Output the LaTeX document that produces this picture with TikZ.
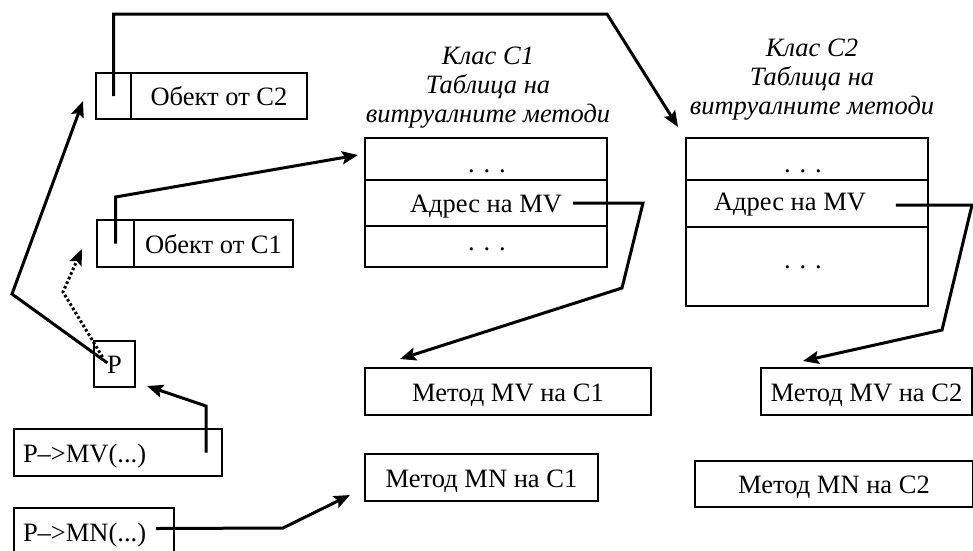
\documentclass[tikz,border=0pt]{standalone}
\usepackage{fontspec}
\setmainfont{Liberation Serif}
\usetikzlibrary{arrows.meta,calc}
\begin{document}
\begin{tikzpicture}[x=1pt,y=-1pt,
  every node/.style={font=\fontsize{26.5}{29}\selectfont, inner sep=0pt, outer sep=0pt},
  box/.style={draw, line width=1.8pt, anchor=north west, text height=19pt, text depth=0pt},
  txt/.style={anchor=base},
  ttl/.style={anchor=north, align=center, font=\fontsize{26.5}{29}\selectfont\itshape},
  conn/.style={line width=3pt, line join=miter},
  arr/.style={conn, -{Stealth[length=16pt,width=13pt,inset=3pt]}},
  dotarr/.style={line width=3pt, dash pattern=on 2.6pt off 2.4pt, -{Stealth[length=16pt,width=13pt,inset=3pt]}},
]
\useasboundingbox (0,0) rectangle (973,550);

% objects
\node[box, minimum width=35pt, minimum height=46pt] (o2p) at (96,73) {};
\node[box, minimum width=176pt, minimum height=46pt] (o2) at (131,73) {Обект от C2};
\node[box, minimum width=37pt, minimum height=47pt] (o1p) at (97,220) {};
\node[box, minimum width=159pt, minimum height=47pt] (o1) at (134,220) {Обект от C1};

% pointer and calls
\node[box, minimum width=41pt, minimum height=46pt] (P) at (94,341) {P};
\node[box, minimum height=47pt, text width=190pt, inner xsep=9pt, align=left] (callMV) at (14,429) {P–>MV(...)};
\node[box, minimum height=47pt, text width=142pt, inner xsep=9pt, align=left] (callMN) at (14,508) {P–>MN(...)};

% table C1
\node[ttl] (ttl1) at (488,47) {Клас C1\\Таблица на\\витруалните методи};
\node[box, minimum width=242pt, minimum height=42pt] (t1r1) at (365,138) {};
\node[box, minimum width=242pt, minimum height=46pt] (t1r2) at (365,180) {Адрес на MV};
\node[box, minimum width=242pt, minimum height=41pt] (t1r3) at (365,226) {};
\node[txt] (d11) at (487,172) {. . .};
\node[txt] (d13) at (487,250) {. . .};

% table C2
\node[ttl] (ttl2) at (812,39) {Клас C2\\Таблица на\\витруалните методи};
\node[box, minimum width=242pt, minimum height=42pt] (t2r1) at (686,138) {};
\node[box, minimum width=242pt, minimum height=47pt] (t2r2) at (686,180) {};
\node[box, minimum width=242pt, minimum height=79pt] (t2r3) at (686,227) {};
\node[txt] (a2) at (790,210) {Адрес на MV};
\node[txt] (d21) at (803,172) {. . .};
\node[txt] (d23) at (803,268) {. . .};

% methods
\node[box, minimum width=286pt, minimum height=47pt] (mv1) at (365,368) {Метод MV на C1};
\node[box, minimum width=233pt, minimum height=47pt] (mn1) at (365,454) {Метод MN на C1};
\node[box, minimum width=211pt, minimum height=47pt] (mv2) at (761,368) {Метод MV на C2};
\node[box, minimum width=278pt, minimum height=46pt] (mn2) at (695,461) {Метод MN на C2};

% connectors
\coordinate (k1) at (607,14);
\coordinate (h1) at (678,127);
\draw[arr] (o2p.center) |- (k1) -- (h1);

\coordinate (k2) at (116,197);
\coordinate (h2) at (358,155);
\draw[arr] (o1p.center) -- (o1p.center |- k2) -- (h2);

\coordinate (k3) at (12,294);
\coordinate (h3) at (83,101);
\draw[arr] ($(P.center)+(-7,-1)$) -- (k3) -- (h3);

\coordinate (k4) at (63,292);
\coordinate (h4) at (82,249);
\draw[dotarr] ($(P.center)+(-12,-7)$) -- (k4) -- (h4);

\coordinate (k5) at (206,406);
\coordinate (h5) at (147,386);
\draw[arr] ($(callMV.east)+(-16,0)$) -- (k5) -- (h5);

\coordinate (k6) at (283,528);
\coordinate (h6) at (350,495);
\draw[arr] ($(callMN.east)+(-18,-3)$) -- (k6) -- (h6);

\coordinate (k7a) at (643,203);
\coordinate (k7b) at (622,288);
\coordinate (h7) at (400,359);
\draw[arr] ($(t1r2.center)+(87,0)$) -- (k7a) -- (k7b) -- (h7);

\coordinate (k8a) at (972,205);
\coordinate (k8b) at (942,330);
\coordinate (h8) at (803,361);
\draw[arr] ($(a2.base east)+(30,-5)$) -- (k8a) -- (k8b) -- (h8);
\end{tikzpicture}
\end{document}
